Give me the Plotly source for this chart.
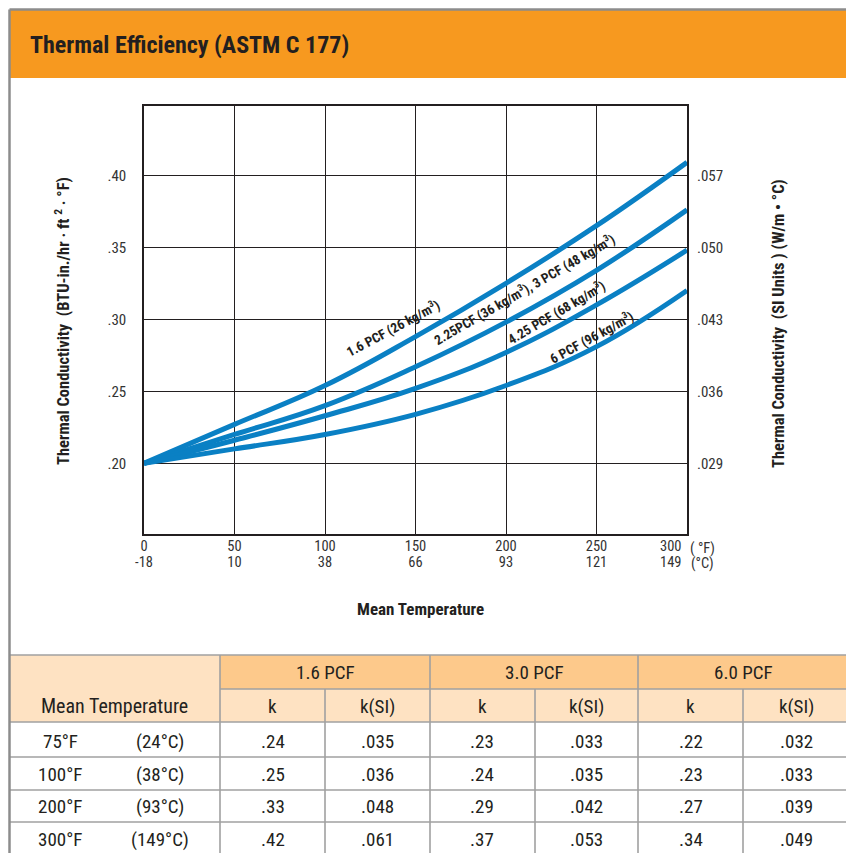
import plotly.graph_objects as go

# ---------------- data ----------------
temp_f = [0, 50, 100, 150, 200, 250, 300]
temp_c_labels = ["-18", "10", "38", "66", "93", "121", "149"]
k_16 = [0.200, 0.227, 0.254, 0.288, 0.325, 0.365, 0.409]
k_225_3 = [0.200, 0.220, 0.240, 0.267, 0.298, 0.334, 0.376]
k_425 = [0.200, 0.216, 0.233, 0.252, 0.277, 0.310, 0.348]
k_6 = [0.200, 0.210, 0.220, 0.234, 0.254, 0.281, 0.320]

k_ticks = [0.20, 0.25, 0.30, 0.35, 0.40]
k_tick_labels = [".20", ".25", ".30", ".35", ".40"]
si_tick_labels = [".029", ".036", ".043", ".050", ".057"]

curve_labels = [
    "1.6 PCF (26 kg/m<sup>3</sup>)",
    "2.25PCF (36 kg/m<sup>3</sup>), 3 PCF (48 kg/m<sup>3</sup>)",
    "4.25 PCF (68 kg/m<sup>3</sup>)",
    "6 PCF (96 kg/m<sup>3</sup>)",
]

# table
table_groups = ["1.6 PCF", "3.0 PCF", "6.0 PCF"]
table_sub = ["k", "k(SI)"]
table_temp_f = ["75°F", "100°F", "200°F", "300°F"]
table_temp_c = ["(24°C)", "(38°C)", "(93°C)", "(149°C)"]
k_16_tab = [".24", ".25", ".33", ".42"]
ksi_16_tab = [".035", ".036", ".048", ".061"]
k_30_tab = [".23", ".24", ".29", ".37"]
ksi_30_tab = [".033", ".035", ".042", ".053"]
k_60_tab = [".22", ".23", ".27", ".34"]
ksi_60_tab = [".032", ".033", ".039", ".049"]

# ---------------- styling ----------------
OFF = 8                      # page body margin
W, H = 854 - OFF, 853 - OFF
COND = "Roboto Condensed, DejaVu Sans Condensed, sans-serif"
BLUE = "#0A80C4"
ORANGE = "#F7991F"
PEACH_D = "#FDC98B"
PEACH_L = "#FEE2C2"
GRID = "#231F20"
TBL_LINE = "#A0A0A0"
TXT = "#231F20"

def px(x):
    return (x - OFF) / W

def py(y):
    return 1 - (y - OFF) / H

PL, PR, PT, PB = 144, 687, 105.7, 534.3

fig = go.Figure()
for ys in [k_16, k_225_3, k_425, k_6]:
    fig.add_trace(go.Scatter(x=temp_f, y=ys, mode="lines",
                             line=dict(color=BLUE, width=5, shape="spline", smoothing=1.2),
                             showlegend=False, hoverinfo="skip"))
for xa in ["x2", "x3"]:
    fig.add_trace(go.Scatter(x=[0], y=[0.2], xaxis=xa, yaxis="y2", mode="markers",
                             marker=dict(opacity=0), showlegend=False, hoverinfo="skip"))

# label of the last tick sits left of its gridline to leave room for the units
label_x = [v if v < 300 else v - 9 for v in temp_f]

yrange = [0.1507, 0.4483]
tickfont = dict(family=COND, size=15, color="#333")
xtickfont = dict(family=COND, size=14.5, color="#333")
fig.update_layout(
    width=W, height=H,
    margin=dict(l=0, r=0, t=0, b=0, pad=0, autoexpand=False),
    paper_bgcolor="white", plot_bgcolor="white",
    showlegend=False,
    xaxis=dict(domain=[px(PL), px(PR)], range=[0, 300], anchor="y",
               tickvals=temp_f, showticklabels=False,
               showgrid=True, gridcolor=GRID, gridwidth=1.3,
               showline=True, mirror=True, linecolor=GRID, linewidth=1.5,
               zeroline=False, ticks="", automargin=False),
    xaxis2=dict(overlaying="x", anchor="y", side="bottom", range=[0, 300],
                tickvals=label_x, ticktext=[str(v) for v in temp_f],
                showgrid=False, zeroline=False, showline=False, ticks="",
                ticklabelstandoff=1, automargin=False, tickfont=xtickfont),
    xaxis3=dict(overlaying="x", anchor="y", side="bottom", range=[0, 300],
                tickvals=label_x, ticktext=temp_c_labels,
                showgrid=False, zeroline=False, showline=False, ticks="",
                ticklabelstandoff=17, automargin=False, tickfont=xtickfont),
    yaxis=dict(domain=[py(PB), py(PT)], range=yrange, anchor="x",
               tickvals=k_ticks, ticktext=k_tick_labels,
               showgrid=True, gridcolor=GRID, gridwidth=1.3,
               showline=True, mirror=True, linecolor=GRID, linewidth=1.5,
               zeroline=False, ticks="", ticklabelstandoff=13, automargin=False,
               tickfont=tickfont),
    yaxis2=dict(overlaying="y", side="right", range=yrange, anchor="x2",
                tickvals=k_ticks, ticktext=si_tick_labels,
                showgrid=False, zeroline=False, showline=False, ticks="",
                ticklabelstandoff=9, automargin=False, tickfont=tickfont),
)

shapes = []
ann = []

def text(s, x, y, size=18, bold=False, angle=0, xanchor="center", color=TXT):
    ann.append(dict(text=f"<b>{s}</b>" if bold else s, xref="paper", yref="paper",
                    x=px(x), y=py(y), xanchor=xanchor, yanchor="middle",
                    textangle=angle, showarrow=False,
                    font=dict(family=COND, size=size, color=color)))

# header band
shapes.append(dict(type="rect", xref="paper", yref="paper",
                   x0=px(10), x1=px(849), y0=py(10), y1=py(78),
                   fillcolor=ORANGE, line=dict(width=0), layer="above"))
text("Thermal Efficiency (ASTM C 177)", 28, 45, 24, bold=True, xanchor="left")

# axis titles
text("Thermal Conductivity  (BTU-in./hr · ft <sup>2</sup> · °F)", 62, 321, 16.5, bold=True, angle=-90)
text("Thermal Conductivity  (SI Units ) (W/m • °C)", 778, 324, 16.5, bold=True, angle=-90)
text("Mean Temperature", 420, 609, 17, bold=True)
text("( °F)", 702, 548, 14.5, color="#333")
text("(°C)", 702, 563, 14.5, color="#333")

# curve labels
label_pos = [(392, 328, -28), (524, 289, -30), (556, 312, -30.5), (591, 337, -28.5)]
for t, (lx, ly, ang) in zip(curve_labels, label_pos):
    text(t, lx, ly, 13.5, bold=True, angle=ang)

# ---------------- table ----------------
col_x = [10, 220, 325, 430, 535, 638, 743, 849]
row_y = [655, 689, 722, 757, 790, 822, 860]

def rect(x0, x1, y0, y1, fill):
    shapes.append(dict(type="rect", xref="paper", yref="paper",
                       x0=px(x0), x1=px(x1), y0=py(y0), y1=py(y1),
                       fillcolor=fill, line=dict(width=0), layer="above"))

def line(x0, y0, x1, y1, color=TBL_LINE, w=1.6):
    shapes.append(dict(type="line", xref="paper", yref="paper",
                       x0=px(x0), x1=px(x1), y0=py(y0), y1=py(y1),
                       line=dict(color=color, width=w), layer="above"))

rect(10, 220, 655, 722, PEACH_L)
for g in range(3):
    rect(col_x[1 + 2 * g], col_x[3 + 2 * g], 655, 689, PEACH_D)
    rect(col_x[1 + 2 * g], col_x[3 + 2 * g], 689, 722, PEACH_L)

line(10, 655, 849, 655)
line(220, 689, 849, 689)
for yy in row_y[2:6]:
    line(10, yy, 849, yy)
for i, xx in enumerate(col_x[1:7]):
    top = 655 if i % 2 == 0 else 689
    line(xx, top, xx, 860)

text("Mean Temperature", 115, 706, 20)
for g, name in enumerate(table_groups):
    cx = (col_x[1 + 2 * g] + col_x[3 + 2 * g]) / 2
    text(name, cx, 672, 19)
    for s, sub in enumerate(table_sub):
        sx = (col_x[1 + 2 * g + s] + col_x[2 + 2 * g + s]) / 2
        text(sub, sx, 706, 19)

cols = [k_16_tab, ksi_16_tab, k_30_tab, ksi_30_tab, k_60_tab, ksi_60_tab]
row_centers = [741, 774, 806.5, 839]
for r, yc in enumerate(row_centers):
    text(table_temp_f[r], 60, yc, 19)
    text(table_temp_c[r], 160, yc, 19)
    for c, col in enumerate(cols):
        text(col[r], (col_x[1 + c] + col_x[2 + c]) / 2, yc, 19)

FR = "#8C8C8C"
line(9.5, 9.5, 849.5, 9.5, FR, 2.5)
line(9.5, 9.5, 9.5, 860, FR, 2.5)
line(849.5, 9.5, 849.5, 860, FR, 2.5)

fig.update_layout(shapes=shapes, annotations=ann)
fig.write_html("out.html")
